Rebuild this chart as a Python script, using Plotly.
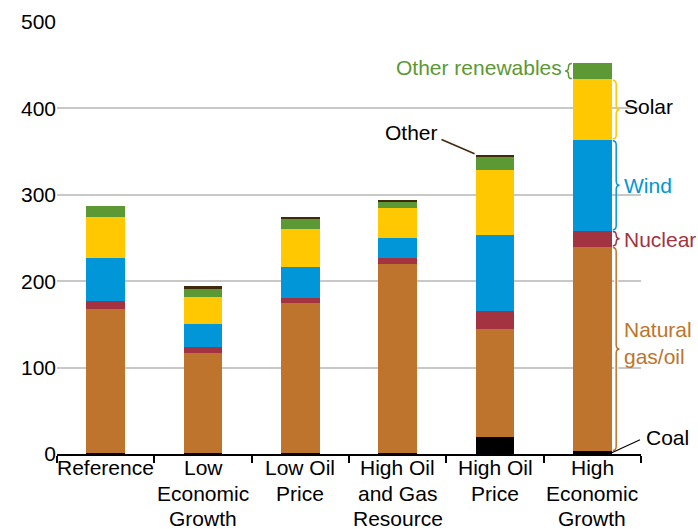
import plotly.graph_objects as go

# scenarios and stacked capacity (GW), bottom to top
scenarios = ["Reference", "Low<br>Economic<br>Growth", "Low Oil<br>Price",
             "High Oil<br>and Gas<br>Resource", "High Oil<br>Price", "High<br>Economic<br>Growth"]
coal = [1, 1, 1, 1, 20, 3]
gas_oil = [167, 116, 174, 219, 125, 237]
nuclear = [9.5, 7, 6, 7, 21, 18.5]
wind = [49.5, 26, 36, 23, 88, 105]
solar = [47.5, 32, 44, 35, 75, 70]
other_ren = [12.5, 9.5, 10.5, 7, 15, 19.5]
other = [0, 2.5, 2.5, 2, 2.5, 0]

series = [
    ("Coal", coal, "#000000"),
    ("Natural gas/oil", gas_oil, "#BE742C"),
    ("Nuclear", nuclear, "#A33340"),
    ("Wind", wind, "#0096D8"),
    ("Solar", solar, "#FFC800"),
    ("Other renewables", other_ren, "#5C9833"),
    ("Other", other, "#3F2A0C"),
]

FONT = "Liberation Sans, Arial, sans-serif"
pos = list(range(len(scenarios)))

fig = go.Figure()
for name, vals, col in series:
    fig.add_trace(go.Bar(x=pos, y=vals, name=name, marker_color=col,
                         marker_line_width=0, width=0.4, showlegend=False))


def brace(x0, y0, y1, w, d):
    xm = x0 + w / 2
    xt = x0 + w
    ym = (y0 + y1) / 2
    return (f"M {x0},{y1} Q {xm},{y1} {xm},{y1 - d} L {xm},{ym + d} "
            f"Q {xm},{ym} {xt},{ym} Q {xm},{ym} {xm},{ym - d} "
            f"L {xm},{y0 + d} Q {xm},{y0} {x0},{y0}")


# segment bounds of the last bar
i = 5
b_coal = coal[i]
b_gas = b_coal + gas_oil[i]
b_nuc = b_gas + nuclear[i]
b_wind = b_nuc + wind[i]
b_solar = b_wind + solar[i]
b_oren = b_solar + other_ren[i]

shapes = []
xr = 5.21
shapes.append(dict(type="path", path=brace(xr, b_coal + 1, b_gas - 1, 0.07, 5),
                   line=dict(color="white", width=4), xref="x", yref="y"))
for lo, hi, col in [(b_coal + 1, b_gas - 1, "#BE742C"), (b_gas + 1, b_nuc - 1, "#A33340"),
                    (b_nuc + 1, b_wind - 1, "#0096D8"), (b_wind + 1, b_solar - 1, "#FFC800")]:
    shapes.append(dict(type="path", path=brace(xr, lo, hi, 0.07, min(5, (hi - lo) / 4)),
                       line=dict(color=col, width=1.5), xref="x", yref="y"))
shapes.append(dict(type="path", path=brace(4.79, b_solar + 1, b_oren - 1, -0.07, 4),
                   line=dict(color="#5C9833", width=1.5), xref="x", yref="y"))
# leader lines
shapes.append(dict(type="line", x0=5.2, y0=1.5, x1=5.49, y1=16.5,
                   line=dict(color="black", width=1.2), xref="x", yref="y"))
shapes.append(dict(type="line", x0=3.45, y0=364, x1=3.79, y1=347.5,
                   line=dict(color="#3F2A0C", width=1.5), xref="x", yref="y"))

lab = 0.9675  # paper x of the right-hand labels
annotations = [
    dict(x=4.71, y=447, xref="x", text="Other renewables", xanchor="right", font_color="#5C9833"),
    dict(x=lab, y=(b_wind + b_solar) / 2 + 4, xref="paper", text="Solar", xanchor="left", font_color="black"),
    dict(x=lab, y=(b_nuc + b_wind) / 2, xref="paper", text="Wind", xanchor="left", font_color="#0096D8"),
    dict(x=lab, y=(b_gas + b_nuc) / 2 - 1, xref="paper", text="Nuclear", xanchor="left", font_color="#A33340"),
    dict(x=lab, y=128, xref="paper", text="Natural<br>gas/oil", xanchor="left", font_color="#BE742C"),
    dict(x=1.005, y=19, xref="paper", text="Coal", xanchor="left", font_color="black"),
    dict(x=3.43, y=372, xref="x", text="Other", xanchor="right", font_color="black"),
]
for a in annotations:
    a.update(yref="y", showarrow=False, yanchor="middle", align="left",
             font=dict(family=FONT, size=21, color=a.pop("font_color")))

# category labels under the axis, one line at a time for tighter spacing
for p, s in zip(pos, scenarios):
    for k, line in enumerate(s.split("<br>")):
        annotations.append(dict(x=p, y=0, xref="x", yref="paper", text=line, showarrow=False,
                                xanchor="center", yanchor="top", yshift=-25.5 * k,
                                font=dict(family=FONT, size=21, color="black")))

fig.update_layout(
    barmode="stack",
    width=698, height=529,
    margin=dict(l=57, r=57, t=22, b=75),
    plot_bgcolor="white", paper_bgcolor="white",
    font=dict(family=FONT, size=21, color="black"),
    shapes=shapes,
    annotations=annotations,
    xaxis=dict(tickmode="array", tickvals=[p - 0.5 for p in pos] + [pos[-1] + 0.5],
               showticklabels=False, range=[-0.5, 5.5], automargin=False,
               showline=True, linecolor="black", linewidth=2,
               ticks="outside", ticklen=7, tickcolor="black", tickwidth=1.5,
               showgrid=False, zeroline=False),
    yaxis=dict(range=[0, 500], dtick=100, showgrid=True, gridcolor="#C8C8C8",
               gridwidth=1.5, zeroline=False, showline=False, ticks="",
               automargin=False, tickfont=dict(size=21)),
)

# drop the page's default body margin so the figure sits at the window corner
fig.write_html("out.html", config={"displayModeBar": False},
               post_script="document.body.style.margin='0';")
